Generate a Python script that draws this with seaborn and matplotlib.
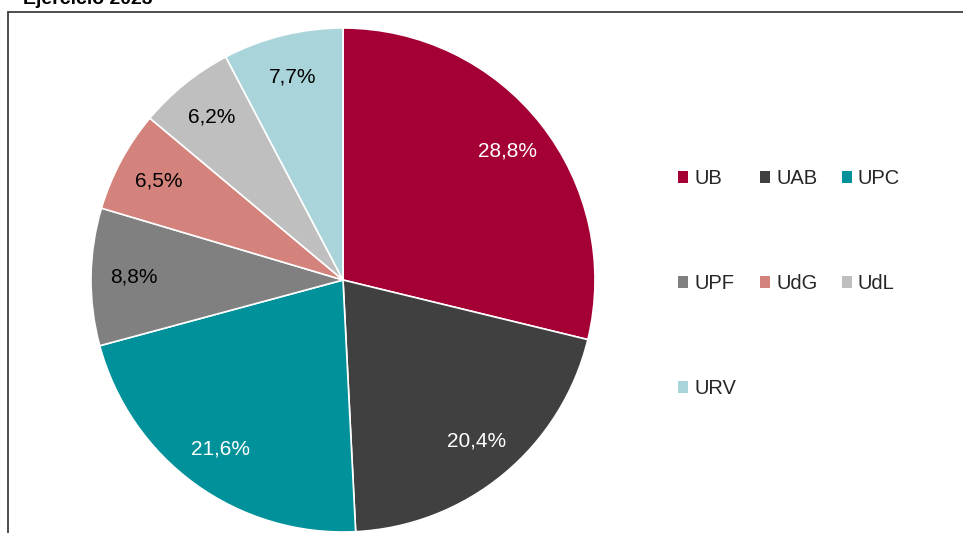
import matplotlib
matplotlib.use('Agg')
import matplotlib.pyplot as plt
from matplotlib.lines import Line2D
import seaborn as sns

universities = ['UB', 'UAB', 'UPC', 'UPF', 'UdG', 'UdL', 'URV']
shares = [28.8, 20.4, 21.6, 8.8, 6.5, 6.2, 7.7]
colors = ['#A50034', '#404040', '#00919A', '#808080', '#D4827C', '#BFBFBF', '#A8D4DA']
label_colors = ['white', 'white', 'white', 'black', 'black', 'black', 'black']
title = 'Ejercicio 2023'

sns.set_theme(style='white')
plt.rcParams['font.family'] = ['Liberation Sans', 'DejaVu Sans']

W, H = 963, 533
fig = plt.figure(figsize=(W / 100, H / 100), dpi=100)

# pie centre at (343, 280) px, radius 252 px
cx, cy, r = 343, 280, 252
ax = fig.add_axes([(cx - r) / W, (H - cy - r) / H, 2 * r / W, 2 * r / H])

wedges, texts, autotexts = ax.pie(
    shares, colors=colors, startangle=90, counterclock=False,
    autopct=lambda p: f'{p:.1f}%'.replace('.', ','), pctdistance=0.83,
    wedgeprops=dict(edgecolor='white', linewidth=1.2),
    textprops=dict(fontsize=15))
for t, c in zip(autotexts, label_colors):
    t.set_color(c)
ax.set_xlim(-1, 1)
ax.set_ylim(-1, 1)
ax.set_aspect('equal')

# legend is filled row by row in the reference, matplotlib fills columns
order = [0, 3, 6, 1, 4, 2, 5]
leg = fig.legend([wedges[i] for i in order], [universities[i] for i in order],
                 ncol=3, loc='upper left',
                 bbox_to_anchor=(660 / W, 1 - 151 / H),
                 frameon=False, fontsize=14.5, handlelength=0.5, handleheight=0.5,
                 handletextpad=0.3, columnspacing=1.2, labelspacing=4.27)
for h in leg.legend_handles:
    h.set_edgecolor('none')

# outer frame (top and left edges visible)
fig.add_artist(Line2D([8 / W, 8 / W], [0, 1 - 12 / H], transform=fig.transFigure,
                      color='#404040', linewidth=1.3))
fig.add_artist(Line2D([8 / W, 1], [1 - 12 / H, 1 - 12 / H], transform=fig.transFigure,
                      color='#404040', linewidth=1.3))

fig.text(23 / W, 1 - 4 / H, title, fontsize=14, fontweight='bold',
         va='baseline', ha='left', color='black')

fig.savefig('out.png', dpi=100)
